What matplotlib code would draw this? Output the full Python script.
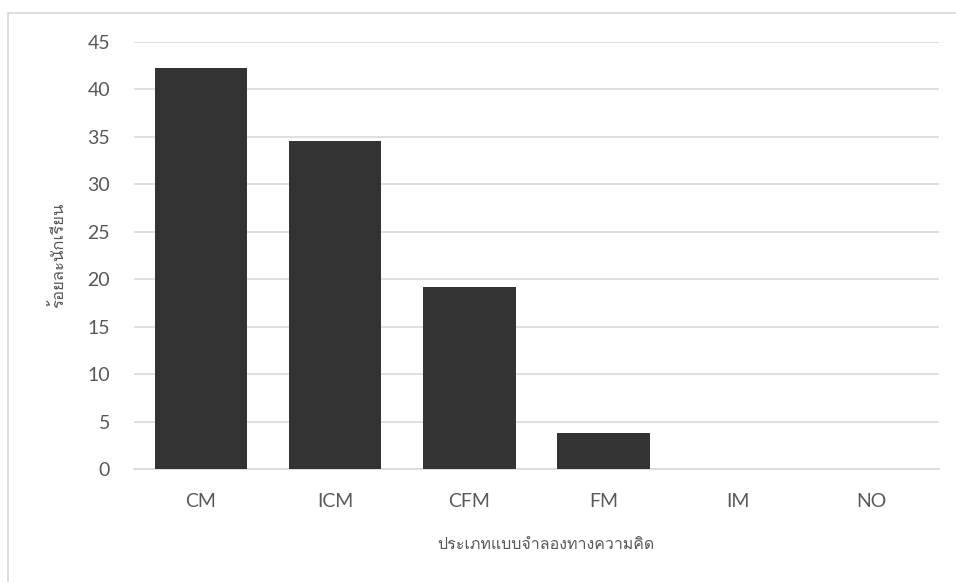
import matplotlib
matplotlib.use("Agg")
import matplotlib.pyplot as plt
from matplotlib import font_manager
from matplotlib.ft2font import FT2Font
from matplotlib.patches import Rectangle

# Data
models = ["CM", "ICM", "CFM", "FM", "IM", "NO"]
percent = [42.3, 34.6, 19.2, 3.8, 0, 0]
y_ticks = [0, 5, 10, 15, 20, 25, 30, 35, 40, 45]
x_label = "ประเภทแบบจำลองทางความคิด"
y_label = "ร้อยละนักเรียน"


# find a font that can draw Thai
def thai_font():
    for f in font_manager.fontManager.ttflist:
        try:
            if FT2Font(f.fname).get_char_index(ord("ร")):
                return f.name
        except Exception:
            pass
    return "DejaVu Sans"


thai = thai_font()
plt.rcParams["font.family"] = ["Lato", "DejaVu Sans"]

fig = plt.figure(figsize=(9.56, 5.82), dpi=100)
ax = fig.add_axes([0.140, 0.194, 0.842, 0.734])

# chart frame
fig.patches.append(Rectangle((0.0084, -0.05), 1.1, 0.05 + 0.9777, transform=fig.transFigure,
                             fill=False, edgecolor="#d9d9d9", linewidth=1.2))

ax.bar(range(len(models)), percent, width=0.69, color="#333333", zorder=3)

ax.set_xlim(-0.5, len(models) - 0.5)
ax.set_ylim(0, 45)
ax.set_yticks(y_ticks)
ax.set_xticks(range(len(models)))
ax.set_xticklabels(models)
ax.yaxis.grid(True, color="#d9d9d9", linewidth=1.2)
ax.set_axisbelow(True)
for s in ["top", "right", "left"]:
    ax.spines[s].set_visible(False)
ax.spines["bottom"].set_color("#d9d9d9")
ax.spines["bottom"].set_linewidth(1.2)
ax.tick_params(axis="both", length=0, labelsize=14, labelcolor="#595959")
ax.tick_params(axis="x", pad=17)
ax.tick_params(axis="y", pad=17)

ax.set_xlabel(x_label, family=[thai, "DejaVu Sans"], fontsize=11.5, color="#595959")
ax.set_ylabel(y_label, family=[thai, "DejaVu Sans"], fontsize=12, color="#595959")
ax.xaxis.set_label_coords(0.512, -0.16)
ax.yaxis.set_label_coords(-0.083, 0.5)

fig.savefig("out.png", dpi=100)
